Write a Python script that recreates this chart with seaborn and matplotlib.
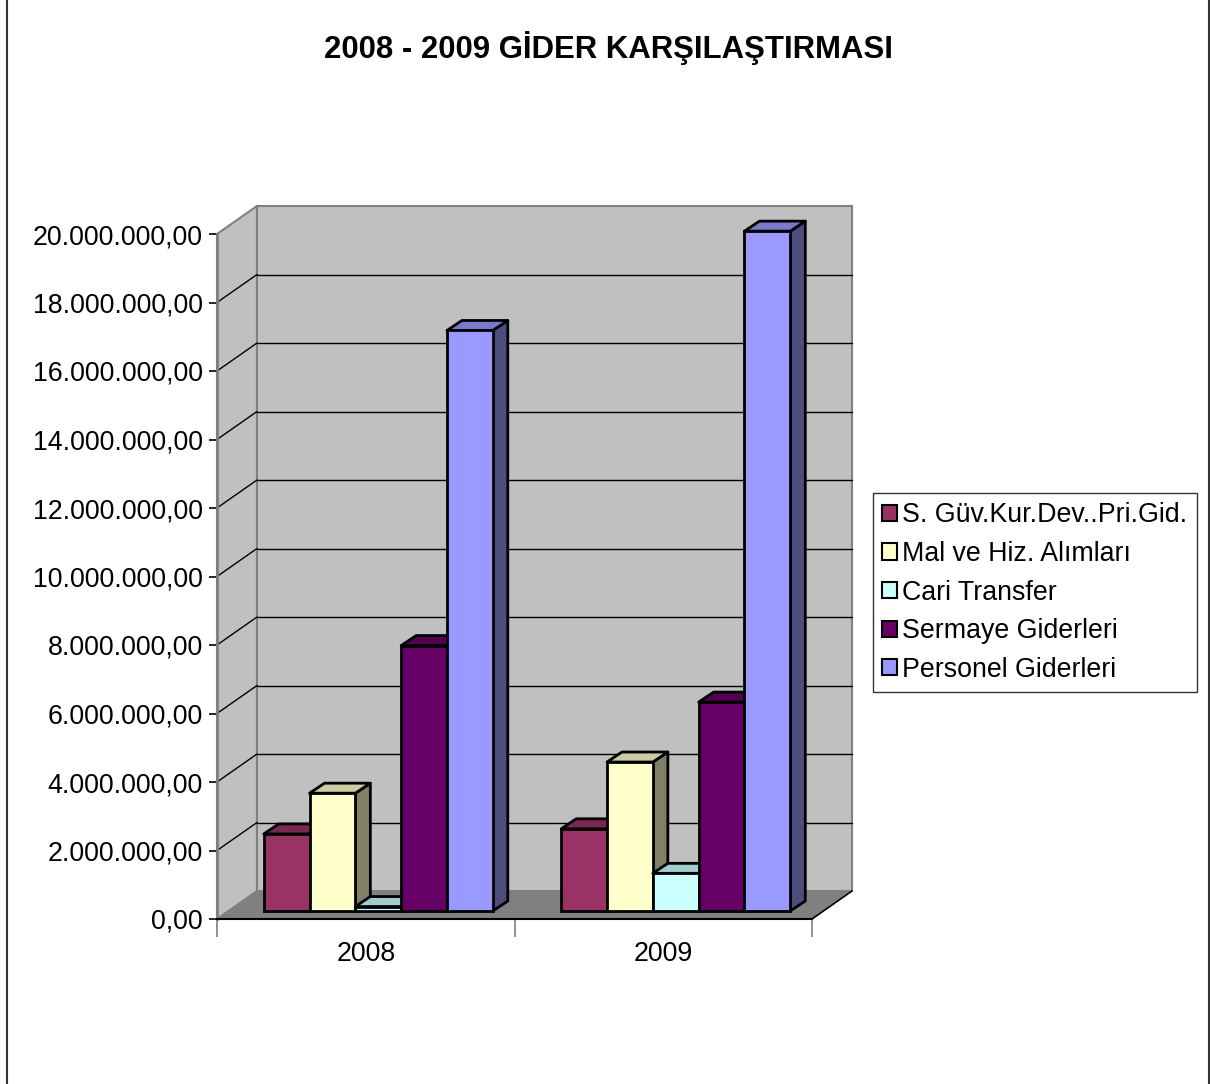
import matplotlib
matplotlib.use("Agg")
import matplotlib.pyplot as plt
from matplotlib.patches import Polygon, Patch
from matplotlib.lines import Line2D
from matplotlib.colors import to_rgb
import seaborn as sns
import pandas as pd

# ---- data ----
years = ["2008", "2009"]
series = ["S. Güv.Kur.Dev..Pri.Gid.", "Mal ve Hiz. Alımları", "Cari Transfer",
          "Sermaye Giderleri", "Personel Giderleri"]
sgk = [2250000, 2400000]
mal = [3440000, 4350000]
cari = [130000, 1100000]
sermaye = [7750000, 6100000]
personel = [16950000, 19850000]
colors = ["#993366", "#FFFFCC", "#CCFFFF", "#660066", "#9999FF"]
yticks = list(range(0, 20000001, 2000000))
title = "2008 - 2009 GİDER KARŞILAŞTIRMASI"

values = [sgk, mal, cari, sermaye, personel]
rows = []
for s, vals in zip(series, values):
    for y, v in zip(years, vals):
        rows.append({"Yıl": y, "Kalem": s, "Tutar": v})
df = pd.DataFrame(rows)

sns.set_theme(style="white")
plt.rcParams["font.family"] = ["Liberation Sans", "DejaVu Sans"]

W, H = 1210, 1084
FS = 19.3
fig = plt.figure(figsize=(W / 100, H / 100), dpi=100)
ax_l, ax_r, ax_t, ax_b = 217, 812, 234, 919
ax = fig.add_axes([ax_l / W, 1 - ax_b / H, (ax_r - ax_l) / W, (ax_b - ax_t) / H])
ax.patch.set_alpha(0)

XMIN, XMAX, YMAX = -0.5, 1.5, 20000000
pxx = (ax_r - ax_l) / (XMAX - XMIN)
pxy = (ax_b - ax_t) / YMAX


def dxu(p):
    return p / pxx


def dyu(p):
    return p / pxy


Dx, Dy = dxu(40), dyu(28)
wall = "#C0C0C0"
edge_gray = "#808080"

# side wall
ax.add_patch(Polygon([(XMIN, 0), (XMIN, YMAX), (XMIN + Dx, YMAX + Dy), (XMIN + Dx, Dy)],
                     closed=True, facecolor=wall, edgecolor=edge_gray, lw=1.5,
                     clip_on=False, zorder=0.5))
# back wall
ax.add_patch(Polygon([(XMIN + Dx, Dy), (XMAX + Dx, Dy), (XMAX + Dx, YMAX + Dy), (XMIN + Dx, YMAX + Dy)],
                     closed=True, facecolor=wall, edgecolor=edge_gray, lw=1.5,
                     clip_on=False, zorder=0.5))
# gridlines
for t in yticks[1:-1]:
    ax.add_line(Line2D([XMIN + Dx, XMAX + Dx], [t + Dy, t + Dy], color="black", lw=1,
                       clip_on=False, zorder=0.7))
    ax.add_line(Line2D([XMIN, XMIN + Dx], [t, t + Dy], color="black", lw=1,
                       clip_on=False, zorder=0.7))
# floor
ax.add_patch(Polygon([(XMIN, 0), (XMAX, 0), (XMAX + Dx, Dy), (XMIN + Dx, Dy)],
                     closed=True, facecolor="#808080", edgecolor="none",
                     clip_on=False, zorder=0.8))
ax.add_line(Line2D([XMAX, XMAX + Dx], [0, Dy], color="black", lw=1.2, clip_on=False, zorder=0.9))

# bars
sns.barplot(data=df, x="Yıl", y="Tutar", hue="Kalem", hue_order=series, order=years,
            palette=colors, width=0.77, saturation=1, edgecolor="black", linewidth=2,
            legend=False, ax=ax)

bars = [p for p in ax.patches if p.__class__.__name__ == "Rectangle"]
bdx, bdy = dxu(12.5), dyu(8)
ddx, ddy = dxu(15), dyu(10)
bars_sorted = sorted(bars, key=lambda p: p.get_x())
for i, p in enumerate(bars_sorted):
    x, w, h = p.get_x() + bdx, p.get_width(), p.get_height()
    y0 = bdy
    p.set_x(x)
    p.set_y(y0)
    base = to_rgb(p.get_facecolor())
    top_c = tuple(c * 0.8 for c in base)
    side_c = tuple(c * 0.5 for c in base)
    z = 2 + i * 0.1
    side = Polygon([(x + w, y0), (x + w + ddx, y0 + ddy), (x + w + ddx, y0 + h + ddy), (x + w, y0 + h)],
                   closed=True, facecolor=side_c, edgecolor="black", lw=2, zorder=z,
                   joinstyle="round", clip_on=False)
    top = Polygon([(x, y0 + h), (x + w, y0 + h), (x + w + ddx, y0 + h + ddy), (x + ddx, y0 + h + ddy)],
                  closed=True, facecolor=top_c, edgecolor="black", lw=2, zorder=z + 0.01,
                  joinstyle="round", clip_on=False)
    ax.add_patch(side)
    ax.add_patch(top)
    p.set_zorder(z + 0.02)
    p.set_clip_on(False)

ax.set_xlim(XMIN, XMAX)
ax.set_ylim(0, YMAX)
ax.set_xlabel("")
ax.set_ylabel("")
ax.grid(False)


def fmt(v):
    s = f"{v:,.2f}"
    return s.replace(",", "X").replace(".", ",").replace("X", ".")


ax.set_yticks(yticks)
ax.set_yticklabels([fmt(v) for v in yticks])
ax.tick_params(axis="y", direction="out", length=6, width=1.2, color="black",
               labelsize=FS, pad=4, left=True, labelcolor="black")
ax.set_xticks([0, 1])
ax.set_xticklabels(years)
ax.tick_params(axis="x", which="major", length=0, labelsize=FS, pad=16, labelcolor="black")
ax.set_xticks([XMIN, 0.5, XMAX], minor=True)
ax.tick_params(axis="x", which="minor", direction="out", length=13, width=1.2,
               color=edge_gray, bottom=True)

for s in ["top", "right"]:
    ax.spines[s].set_visible(False)
ax.spines["left"].set_color(edge_gray)
ax.spines["left"].set_linewidth(2)
ax.spines["bottom"].set_color("black")
ax.spines["bottom"].set_linewidth(1.5)
ax.spines["left"].set_zorder(1)
ax.spines["bottom"].set_zorder(1)

fig.text(608 / W, 1 - 48 / H, title, ha="center", va="center", fontsize=22.4,
         fontweight="bold", color="black")

handles = [Patch(facecolor=c, edgecolor="black", lw=1.5) for c in colors]
leg = fig.legend(handles, series, loc="upper left",
                 bbox_to_anchor=(873 / W, 1 - 493 / H), fontsize=FS, frameon=True,
                 fancybox=False, edgecolor="black", handlelength=0.55, handleheight=0.55,
                 handletextpad=0.2, labelspacing=0.47, borderpad=0.35, borderaxespad=0)
leg.get_frame().set_linewidth(1)
for t in leg.get_texts():
    t.set_color("black")

fig.add_artist(Line2D([7 / W, 7 / W], [0, 1], color="#333333", lw=1.5))
fig.add_artist(Line2D([1209 / W, 1209 / W], [0, 1], color="#333333", lw=1.5))

fig.savefig("out.png", dpi=100)
